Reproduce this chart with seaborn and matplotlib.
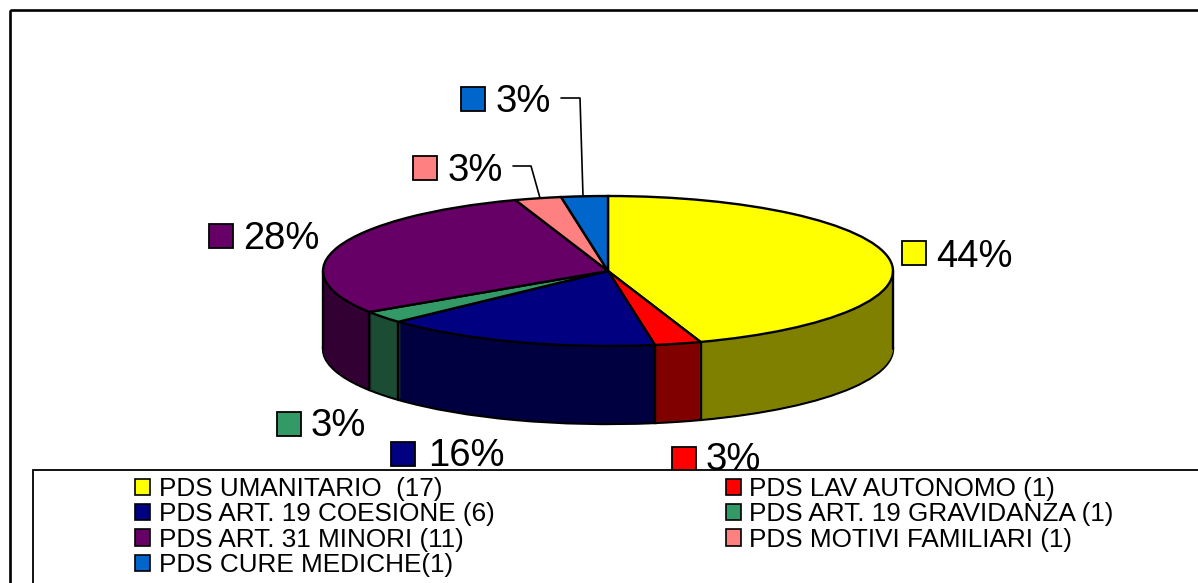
import numpy as np
import matplotlib
matplotlib.use("Agg")
import matplotlib.pyplot as plt
from matplotlib.patches import Patch, Rectangle
import seaborn as sns

# data
categories = ["PDS UMANITARIO  (17)", "PDS LAV AUTONOMO (1)", "PDS ART. 19 COESIONE (6)",
              "PDS ART. 19 GRAVIDANZA (1)", "PDS ART. 31 MINORI (11)",
              "PDS MOTIVI FAMILIARI (1)", "PDS CURE MEDICHE(1)"]
counts = [17, 1, 6, 1, 11, 1, 1]
percent_labels = ["44%", "3%", "16%", "3%", "28%", "3%", "3%"]

# style
top_colors = sns.color_palette(["#FFFF00", "#FF0000", "#000080", "#339966",
                                "#660066", "#FF8080", "#0066CC"])
side_colors = ["#808000", "#800000", "#000040", "#1A4D33", "#330033", "#804040", "#003366"]

sns.set_theme(style="white")
plt.rcParams["font.family"] = ["Liberation Sans", "DejaVu Sans"]

W, H = 1198, 583
cx, cy, rx, ry, depth = 608, 271, 285, 75, 78
lw = 1.7

fig = plt.figure(figsize=(W / 100, H / 100), dpi=100)

# pie axes: one data unit is the radius of the squashed disc
ax = fig.add_axes([0, 0, 1, 1])
for d in np.arange(depth, 0, -1):
    ax.pie(counts, colors=side_colors, startangle=90, counterclock=False,
           center=(0, -d / ry),
           wedgeprops=dict(edgecolor="black" if d == depth else "none",
                           linewidth=lw if d == depth else 0))
ax.pie(counts, colors=top_colors, startangle=90, counterclock=False,
       wedgeprops=dict(edgecolor="black", linewidth=lw))
ax.set_aspect("auto")
ax.set_xlim(-cx / rx, (W - cx) / rx)
ax.set_ylim((cy - H) / ry, cy / ry)

# walls: edges of the visible front slices and the two sides
angles = np.deg2rad(90 - 360 * np.cumsum(counts) / sum(counts))
for a in angles:
    if np.sin(a) < 0:
        ax.plot([np.cos(a)] * 2, [np.sin(a), np.sin(a) - depth / ry], color="black", lw=lw)
ax.plot([-1, -1], [0, -depth / ry], color="black", lw=lw)
ax.plot([1, 1], [0, -depth / ry], color="black", lw=lw)
ax.axis("off")

# overlay in pixels for frame, labels, legend
ov = fig.add_axes([0, 0, 1, 1], facecolor="none")
ov.set_xlim(0, W)
ov.set_ylim(H, 0)
ov.axis("off")

ov.add_patch(Rectangle((10, 10), W, H, fill=False, edgecolor="black", lw=1.9))

label_squares = [(902, 241), (672, 447), (391, 442), (277, 412), (209, 224), (413, 156), (461, 87)]
label_text = [(936, 253), (706, 456), (428, 452), (311, 422), (243, 235), (448, 167), (496, 98)]
for i, lab in enumerate(percent_labels):
    ov.add_patch(Rectangle(label_squares[i], 24, 24, facecolor=top_colors[i],
                           edgecolor="black", lw=1.3))
    ov.text(label_text[i][0], label_text[i][1], lab, fontsize=27.5, color="black",
            ha="left", va="center_baseline")

# leader lines
ov.plot([561, 580, 583], [98, 98, 196], color="black", lw=1.2)
ov.plot([513, 531, 540], [166, 166, 198], color="black", lw=1.2)

# legend box runs off the figure
ov.add_patch(Rectangle((33, 470), W, H, facecolor="white", edgecolor="black", lw=1.3, zorder=5))
order = [0, 2, 4, 6, 1, 3, 5]
handles = [Patch(facecolor=top_colors[i], edgecolor="black", linewidth=1.2, label=categories[i])
           for i in order]
leg = ov.legend(handles=handles, ncols=2, frameon=False, fontsize=18.8, labelcolor="black",
                loc="upper left", bbox_to_anchor=(135 / W, 1 - 477 / H),
                borderaxespad=0, borderpad=0, labelspacing=0.05,
                handlelength=0.58, handleheight=0.58, handletextpad=0.33, columnspacing=8.85)
leg.set_zorder(6)

fig.savefig("out.png", dpi=100)
